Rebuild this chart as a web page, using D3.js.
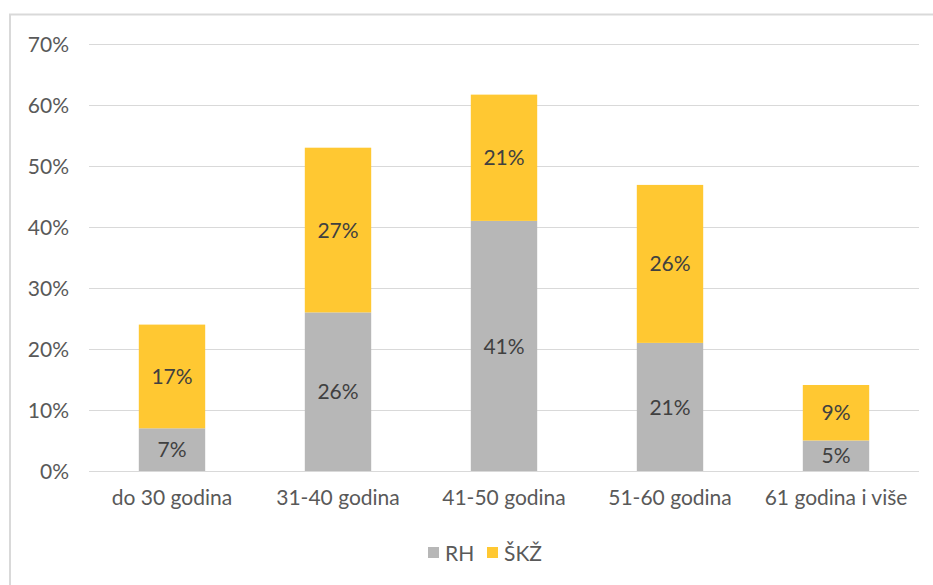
<!DOCTYPE html>
<html>
<head>
<meta charset="utf-8">
<script src="https://cdn.jsdelivr.net/npm/d3@7"></script>
<style>
  html, body { margin: 0; padding: 0; background: #fff; }
  svg { display: block; }
  text { font-family: Lato, "Open Sans", sans-serif; }
</style>
</head>
<body>
<svg id="chart" width="933" height="585"></svg>
<script>
const categories = ["do 30 godina", "31-40 godina", "41-50 godina", "51-60 godina", "61 godina i više"];
const seriesNames = ["RH", "ŠKŽ"];
const rhValues = [7, 26, 41, 21, 5];
const skzValues = [17, 27, 20.7, 25.9, 9.1];
const rhLabels = ["7%", "26%", "41%", "21%", "5%"];
const skzLabels = ["17%", "27%", "21%", "26%", "9%"];
const yTicks = [0, 10, 20, 30, 40, 50, 60, 70];
const colors = ["#b7b7b7", "#ffc832"];

const svg = d3.select("#chart");
const W = 933, H = 585;
const FS = 21;

// chart border (top & left visible)
svg.append("rect").attr("x", 10).attr("y", 14.5).attr("width", W + 20).attr("height", H + 20)
  .attr("fill", "#fff").attr("stroke", "#d9d9d9").attr("stroke-width", 2);

const x0 = 89, x1 = 919, yTop = 44, yBot = 471;
const x = d3.scaleBand().domain(categories).range([x0, x1]).paddingInner(0.6).paddingOuter(0.3);
const y = d3.scaleLinear().domain([0, 70]).range([yBot, yTop]);

// gridlines
svg.append("g").selectAll("line").data(yTicks).join("line")
  .attr("x1", x0).attr("x2", x1)
  .attr("y1", d => Math.round(y(d)) + 0.5).attr("y2", d => Math.round(y(d)) + 0.5)
  .attr("stroke", "#d9d9d9").attr("stroke-width", 1);

// y axis labels
const yAxis = d3.axisLeft(y).tickValues(yTicks).tickFormat(d => d + "%").tickSize(0).tickPadding(0);
const gy = svg.append("g").attr("transform", `translate(${x0 - 20},0)`).call(yAxis);
gy.select(".domain").remove();
gy.selectAll("text").attr("font-size", FS).attr("fill", "#595959").attr("font-family", "Lato, sans-serif").attr("dy", "0.34em");

// x axis labels
const xAxis = d3.axisBottom(x).tickSize(0).tickPadding(0);
const gx = svg.append("g").attr("transform", `translate(0,${yBot + 19})`).call(xAxis);
gx.select(".domain").remove();
gx.selectAll("text").attr("font-size", FS).attr("fill", "#595959").attr("font-family", "Lato, sans-serif").attr("dy", "0.71em");

// stacked data
const rows = categories.map((c, i) => ({ cat: c, RH: rhValues[i], "ŠKŽ": skzValues[i] }));
const stack = d3.stack().keys(seriesNames)(rows);
const labels = [rhLabels, skzLabels];

stack.forEach((layer, li) => {
  const g = svg.append("g");
  g.selectAll("rect").data(layer).join("rect")
    .attr("x", d => x(d.data.cat))
    .attr("width", x.bandwidth())
    .attr("y", d => y(d[1]))
    .attr("height", d => y(d[0]) - y(d[1]))
    .attr("fill", colors[li]);
  g.selectAll("text").data(layer).join("text")
    .attr("x", d => x(d.data.cat) + x.bandwidth() / 2)
    .attr("y", d => (y(d[0]) + y(d[1])) / 2)
    .attr("dy", "0.36em")
    .attr("text-anchor", "middle")
    .attr("font-size", FS)
    .attr("fill", "#404040")
    .text((d, i) => labels[li][i]);
});

// legend
const legend = svg.append("g");
const legendItems = [{ name: "RH", x: 428 }, { name: "ŠKŽ", x: 487 }];
legendItems.forEach((it, i) => {
  legend.append("rect").attr("x", it.x).attr("y", 547).attr("width", 11).attr("height", 11).attr("fill", colors[i]);
  legend.append("text").attr("x", it.x + 17).attr("y", 553).attr("dy", "0.36em")
    .attr("font-size", FS).attr("fill", "#595959").text(seriesNames[i]);
});
</script>
</body>
</html>
